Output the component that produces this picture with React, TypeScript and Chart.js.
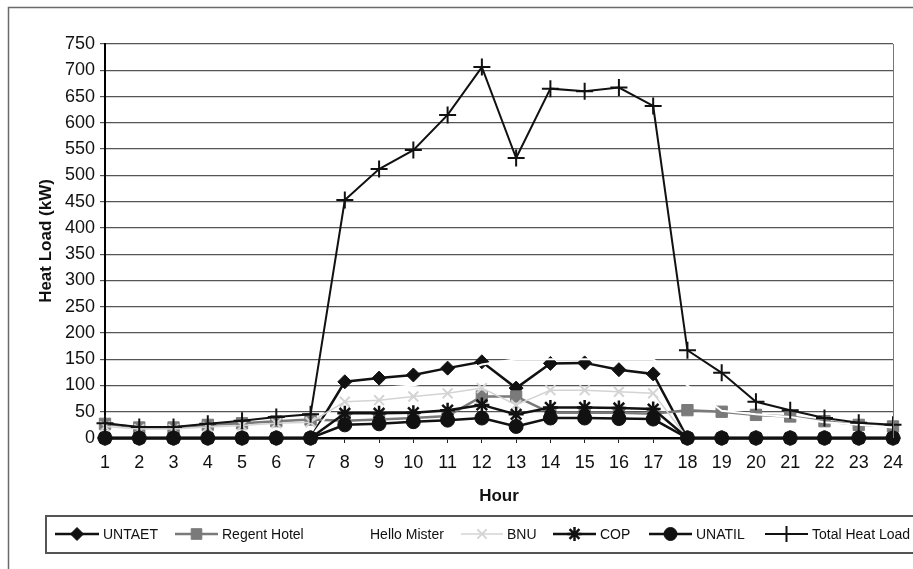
import React, { useEffect, useRef } from 'react';
import { Chart, registerables } from 'chart.js';
import { drawPoint } from 'chart.js/helpers';

Chart.register(...registerables);

const hours = [1, 2, 3, 4, 5, 6, 7, 8, 9, 10, 11, 12, 13, 14, 15, 16, 17, 18, 19, 20, 21, 22, 23, 24];
const untaet = [0, 0, 0, 0, 0, 0, 0, 107, 114, 120, 133, 145, 95, 142, 143, 130, 122, 0, 0, 0, 0, 0, 0, 0];
const regentHotel = [27, 20, 20, 25, 28, 32, 35, 33, 35, 38, 42, 79, 79, 48, 48, 48, 46, 53, 50, 44, 41, 32, 25, 22];
const helloMister = [0, 0, 0, 0, 0, 0, 0, 90, 95, 100, 115, 140, 150, 150, 150, 150, 150, 100, 52, 45, 40, 30, 25, 20];
const bnu = [22, 17, 17, 21, 24, 28, 30, 69, 72, 79, 85, 95, 63, 91, 91, 88, 85, 0, 0, 0, 0, 0, 0, 0];
const cop = [0, 0, 0, 0, 0, 0, 0, 47, 47, 48, 53, 63, 45, 58, 58, 57, 55, 0, 0, 0, 0, 0, 0, 0];
const unatil = [0, 0, 0, 0, 0, 0, 0, 25, 27, 31, 34, 38, 22, 38, 38, 37, 36, 0, 0, 0, 0, 0, 0, 0];
const totalHeatLoad = [28, 21, 21, 27, 33, 40, 45, 453, 512, 548, 615, 706, 533, 665, 660, 667, 632, 167, 124, 69, 53, 38, 29, 25];

const seriesNames = ['UNTAET', 'Regent Hotel', 'Hello Mister', 'BNU', 'COP', 'UNATIL', 'Total Heat Load'];
const yTitle = 'Heat Load (kW)';
const xTitle = 'Hour';

const FONT = '"Liberation Sans", Arial, sans-serif';

type Style = {
  color: string;
  lineWidth: number;
  pointStyle: any;
  radius: number;
  pointBorder: number;
};

const styles: Style[] = [
  { color: '#111111', lineWidth: 2.5, pointStyle: 'rectRot', radius: 7, pointBorder: 1 },
  { color: '#7a7a7a', lineWidth: 2.5, pointStyle: 'rect', radius: 8, pointBorder: 1 },
  { color: '#ffffff', lineWidth: 2, pointStyle: false, radius: 0, pointBorder: 0 },
  { color: '#d4d4d4', lineWidth: 1.5, pointStyle: 'crossRot', radius: 7, pointBorder: 2 },
  { color: '#111111', lineWidth: 2.5, pointStyle: 'star', radius: 7.5, pointBorder: 2.5 },
  { color: '#111111', lineWidth: 2.5, pointStyle: 'circle', radius: 7, pointBorder: 1 },
  { color: '#111111', lineWidth: 2, pointStyle: 'cross', radius: 8.5, pointBorder: 2 },
];

const legendPos = [
  { lx: 55, tx: 103 },
  { lx: 175, tx: 222 },
  { lx: 323, tx: 370 },
  { lx: 461, tx: 507 },
  { lx: 553, tx: 600 },
  { lx: 649, tx: 696 },
  { lx: 765, tx: 812 },
];

const decor = {
  id: 'decor',
  afterDraw(chart: any) {
    const { ctx, chartArea } = chart;
    ctx.save();
    // outer frame
    ctx.strokeStyle = '#6a6a6a';
    ctx.lineWidth = 1.5;
    ctx.strokeRect(8.5, 7.5, 1000, 1000);
    // right plot border
    ctx.beginPath();
    ctx.moveTo(chartArea.right + 0.5, chartArea.top);
    ctx.lineTo(chartArea.right + 0.5, chartArea.bottom);
    ctx.strokeStyle = '#777';
    ctx.lineWidth = 1;
    ctx.stroke();
    // titles
    ctx.fillStyle = '#111';
    ctx.font = 'bold 17px ' + FONT;
    ctx.textAlign = 'center';
    ctx.textBaseline = 'middle';
    ctx.fillText(xTitle, (chartArea.left + chartArea.right) / 2, 496);
    ctx.save();
    ctx.translate(46, (chartArea.top + chartArea.bottom) / 2);
    ctx.rotate(-Math.PI / 2);
    ctx.fillText(yTitle, 0, 0);
    ctx.restore();
    // legend box
    ctx.strokeStyle = '#555';
    ctx.lineWidth = 2;
    ctx.strokeRect(46, 516, 900, 37);
    const ly = 534;
    ctx.font = '14px ' + FONT;
    ctx.textAlign = 'left';
    seriesNames.forEach((name, i) => {
      const st = styles[i];
      const p = legendPos[i];
      ctx.strokeStyle = st.color;
      ctx.fillStyle = st.color;
      ctx.lineWidth = st.lineWidth;
      ctx.beginPath();
      ctx.moveTo(p.lx, ly);
      ctx.lineTo(p.tx - 4, ly);
      ctx.stroke();
      if (st.pointStyle) {
        ctx.lineWidth = st.pointBorder;
        drawPoint(ctx, { pointStyle: st.pointStyle, radius: st.radius - 0.5, rotation: 0, borderWidth: st.pointBorder } as any, (p.lx + p.tx - 4) / 2, ly);
      }
      ctx.fillStyle = '#111';
      ctx.fillText(name, p.tx, ly + 1);
    });
    ctx.restore();
  },
};

export default function App() {
  const ref = useRef<HTMLCanvasElement>(null);
  useEffect(() => {
    if (!ref.current) return;
    const series = [untaet, regentHotel, helloMister, bnu, cop, unatil, totalHeatLoad];
    const datasets = series.map((vals, i) => {
      const st = styles[i];
      return {
        label: seriesNames[i],
        data: vals.map((v, k) => ({ x: hours[k], y: v })),
        borderColor: st.color,
        backgroundColor: st.color,
        borderWidth: st.lineWidth,
        pointStyle: st.pointStyle,
        pointRadius: st.radius,
        pointBorderWidth: st.pointBorder,
        pointBorderColor: st.color,
        pointBackgroundColor: st.color,
        tension: 0,
        order: 10 - i,
        clip: 10,
      };
    });
    const chart = new Chart(ref.current, {
      type: 'line',
      data: { datasets },
      plugins: [decor],
      options: {
        animation: false,
        responsive: false,
        events: [],
        layout: { padding: { left: 0, top: 44, right: 20, bottom: 91 } },
        plugins: { legend: { display: false }, tooltip: { enabled: false } },
        scales: {
          x: {
            type: 'linear',
            min: 1,
            max: 24,
            afterFit: (s: any) => { s.height = 40; },
            ticks: { stepSize: 1, color: '#111', padding: 9, font: { family: FONT, size: 18 }, maxRotation: 0, autoSkip: false },
            grid: { drawOnChartArea: false, drawTicks: true, tickLength: 5, color: '#222' },
            border: { color: '#000', width: 2.5 },
          },
          y: {
            type: 'linear',
            min: 0,
            max: 750,
            afterFit: (s: any) => { s.width = 105; },
            ticks: { stepSize: 50, color: '#111', padding: 5, font: { family: FONT, size: 18 } },
            grid: { color: '#555', lineWidth: 1.2, tickLength: 5, drawTicks: true },
            border: { color: '#000', width: 2 },
          },
        },
      },
    });
    return () => chart.destroy();
  }, []);
  return (
    <div style={{ position: 'absolute', left: 0, top: 0, width: 913, height: 569, background: '#fff' }}>
      <canvas ref={ref} width={913} height={569} />
    </div>
  );
}
